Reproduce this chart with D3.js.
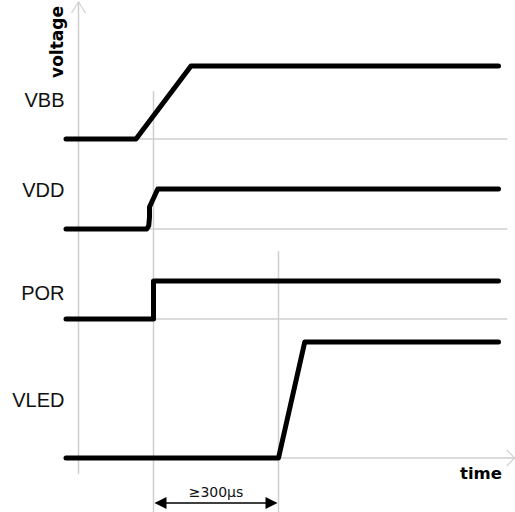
<!DOCTYPE html>
<html>
<head>
<meta charset="utf-8">
<script src="https://cdn.jsdelivr.net/npm/d3@7"></script>
<style>
  body { margin: 0; background: #fff; }
  svg { display: block; }
</style>
</head>
<body>
<script>
// signal names, top to bottom
var signals = ["VBB", "VDD", "POR", "VLED"];
// baseline level of each row (y units) and its "high" amplitude
var rowBase = [22.39, 16.07, 9.75, 0];
var rowHigh = [5.12, 2.81, 2.67, 8.14];
// where the name label sits (y units)
var labelLevel = [24.6, 18.3, 11.1, 3.6];

// waveforms: time (arbitrary units) and level (0 = low, 1 = high)
var vbbT = [-5, 23, 45, 168];
var vbbV = [0, 0, 1, 1];
var vddT = [-5, 27.3, 28.1, 28.4, 28.4, 31.7, 168];
var vddV = [0, 0, 0.08, 0.3, 0.55, 1, 1];
var porT = [-5, 30, 30, 168];
var porV = [0, 0, 1, 1];
var vledT = [-5, 80, 90.5, 168];
var vledV = [0, 0, 1, 1];

// marker lines at events, and where they start (y units)
var markerT = [30, 80];
var markerTop = [25.75, 14.53];
var spanLabel = "≥300µs";

var W = 515, H = 512;
var x = d3.scaleLinear().domain([0, 174]).range([78.5, 513.5]);
var y = d3.scaleLinear().domain([0, 32]).range([458, 2]);

var svg = d3.select("body").append("svg").attr("width", W).attr("height", H);

var grey = "#cfcfcf";

// horizontal row baselines
svg.selectAll(".grid")
    .data(rowBase.slice(0, 3))
    .enter().append("line")
    .attr("x1", x(0)).attr("x2", x(171.5))
    .attr("y1", function(d) { return y(d); })
    .attr("y2", function(d) { return y(d); })
    .attr("stroke", grey).attr("stroke-width", 1.5);

// time axis
svg.append("line")
    .attr("x1", x(0)).attr("x2", x(174.5))
    .attr("y1", y(0)).attr("y2", y(0))
    .attr("stroke", grey).attr("stroke-width", 1.5);
svg.append("path")
    .attr("d", "M" + (x(174.5) - 8) + "," + (y(0) - 8) + "L" + x(174.5) + "," + y(0) + "L" + (x(174.5) - 8) + "," + (y(0) + 8))
    .attr("fill", "none").attr("stroke", grey).attr("stroke-width", 1.2);

// voltage axis
svg.append("line")
    .attr("x1", x(0)).attr("x2", x(0))
    .attr("y1", y(32)).attr("y2", y(-1.12))
    .attr("stroke", grey).attr("stroke-width", 1.5);
svg.append("path")
    .attr("d", "M" + (x(0) - 7) + "," + (y(32) + 11) + "L" + x(0) + "," + y(32) + "L" + (x(0) + 7) + "," + (y(32) + 11))
    .attr("fill", "none").attr("stroke", grey).attr("stroke-width", 1.2);

// event markers
svg.selectAll(".marker")
    .data(markerT)
    .enter().append("line")
    .attr("x1", function(d) { return x(d); })
    .attr("x2", function(d) { return x(d); })
    .attr("y1", function(d, i) { return y(markerTop[i]); })
    .attr("y2", y(-4))
    .attr("stroke", grey).attr("stroke-width", 1.5);

// waveforms
var waves = [[vbbT, vbbV], [vddT, vddV], [porT, porV], [vledT, vledV]];
var line = d3.line()
    .x(function(d) { return x(d[0]); })
    .y(function(d) { return y(d[1]); });

waves.forEach(function(w, i) {
    var pts = w[0].map(function(t, j) {
        return [t, rowBase[i] + w[1][j] * rowHigh[i]];
    });
    svg.append("path")
        .attr("d", line(pts))
        .attr("fill", "none")
        .attr("stroke", "#000")
        .attr("stroke-width", 5)
        .attr("stroke-linecap", "round")
        .attr("stroke-linejoin", "round");
});

// row names
svg.selectAll(".name")
    .data(signals)
    .enter().append("text")
    .attr("x", 64.5)
    .attr("y", function(d, i) { return y(labelLevel[i]); })
    .attr("text-anchor", "end")
    .attr("font-family", "'Liberation Sans', Arial, sans-serif")
    .attr("font-size", 20)
    .attr("fill", "#111")
    .text(function(d) { return d; });

// axis titles
svg.append("text")
    .attr("transform", "translate(62.5," + 42 + ") rotate(-90)")
    .attr("text-anchor", "middle")
    .attr("font-family", "'DejaVu Sans', Verdana, sans-serif")
    .attr("font-weight", "bold")
    .attr("font-size", 17)
    .text("voltage");

svg.append("text")
    .attr("x", 502).attr("y", 479)
    .attr("text-anchor", "end")
    .attr("font-family", "'DejaVu Sans', Verdana, sans-serif")
    .attr("font-weight", "bold")
    .attr("font-size", 16.5)
    .text("time");

// span arrow between the two markers
var ay = y(-3.16);
var x0 = x(markerT[0]) + 1, x1 = x(markerT[1]) - 1;
svg.append("line")
    .attr("x1", x0 + 10).attr("x2", x1 - 10)
    .attr("y1", ay).attr("y2", ay)
    .attr("stroke", "#000").attr("stroke-width", 1.5);
svg.append("path")
    .attr("d", "M" + x0 + "," + ay + "l12,-6v12z")
    .attr("fill", "#000");
svg.append("path")
    .attr("d", "M" + x1 + "," + ay + "l-12,-6v12z")
    .attr("fill", "#000");
svg.append("text")
    .attr("x", (x(markerT[0]) + x(markerT[1])) / 2)
    .attr("y", 497)
    .attr("text-anchor", "middle")
    .attr("font-family", "'DejaVu Sans', Verdana, sans-serif")
    .attr("font-size", 14)
    .attr("fill", "#111")
    .text(spanLabel);
</script>
</body>
</html>
